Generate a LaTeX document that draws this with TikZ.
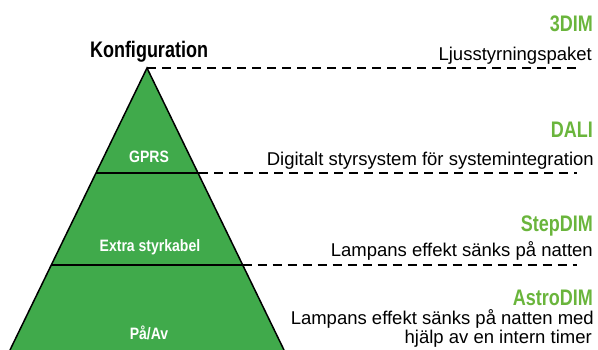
\documentclass[tikz,border=0pt]{standalone}
\usepackage{fontspec}
\setmainfont{Liberation Sans}
\newfontfamily\headfont[FakeStretch=0.8]{Liberation Sans}
\newfontfamily\lablfont[FakeStretch=0.85]{Liberation Sans}
\definecolor{pyrgreen}{RGB}{64,170,75}
\definecolor{headgreen}{RGB}{106,181,60}
\begin{document}
\begin{tikzpicture}[x=1pt,y=-1pt,
  head/.style={anchor=base east,inner sep=0pt,text=headgreen,font=\headfont\bfseries\fontsize{22.5}{26}\selectfont},
  desc/.style={anchor=base east,inner sep=0pt,font=\fontsize{18.5}{21}\selectfont},
  tlabel/.style={inner sep=0pt,anchor=base,text=white,font=\lablfont\bfseries\fontsize{16.5}{19}\selectfont},
  level/.style={black,line width=1.5pt},
  guide/.style={black,line width=1.3pt,dash pattern=on 9pt off 6pt}]
\useasboundingbox (0,0) rectangle (598,350);
% pyramid geometry
\coordinate (apex) at (147,68);
\coordinate (l1) at (96,173);
\coordinate (r1) at (199,173);
\coordinate (l2) at (51.3,265);
\coordinate (r2) at (242.7,265);
\coordinate (bl) at (10,350);
\coordinate (br) at (284,350);
\fill[pyrgreen] (apex) -- (br) -- (bl) -- cycle;
\draw[level] (bl) -- (apex) -- (br);
\draw[level] (l1) -- (r1);
\draw[level] (l2) -- (r2);
% guides
\coordinate (e0) at (577,68);
\coordinate (e1) at (577,173);
\coordinate (e2) at (577,265);
\draw[guide] (apex) -- (e0);
\draw[guide] (r1) -- (e1);
\draw[guide] (r2) -- (e2);
% pyramid labels
\node[tlabel] (gprs) at (149,163) {GPRS};
\node[tlabel] (extra) at (150,252) {Extra styrkabel};
\node[tlabel] (paav) at (149,339) {På/Av};
\node[anchor=base,inner sep=0pt,font=\headfont\bfseries\fontsize{22.5}{26}\selectfont] (konf) at (149,58) {Konfiguration};
% right labels
\node[head] (h1) at (593,32) {3DIM};
\node[desc] (d1) at (592,61) {Ljusstyrningspaket};
\node[head] (h2) at (593,138) {DALI};
\node[desc] (d2) at (594,166) {Digitalt styrsystem för systemintegration};
\node[head] (h3) at (593,232) {StepDIM};
\node[desc] (d3) at (593,257) {Lampans effekt sänks på natten};
\node[head] (h4) at (593,305.5) {AstroDIM};
\node[desc] (d4a) at (594,324.5) {Lampans effekt sänks på natten med};
\node[desc] (d4b) at (592,344) {hjälp av en intern timer};
\end{tikzpicture}
\end{document}
